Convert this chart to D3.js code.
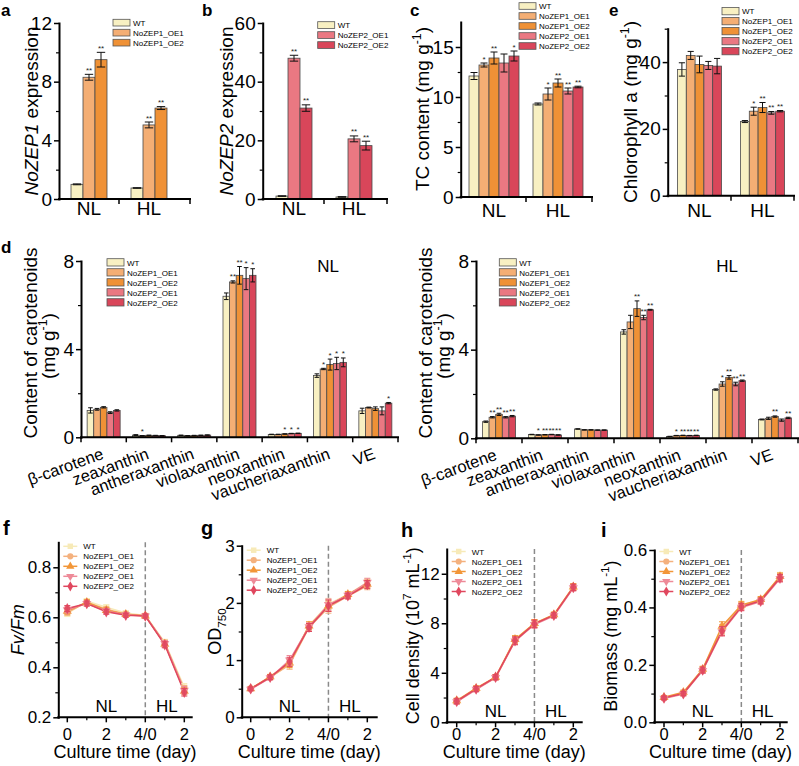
<!DOCTYPE html>
<html><head><meta charset="utf-8">
<script src="https://cdn.jsdelivr.net/npm/d3@7"></script>
<style>body{margin:0;background:#fff}svg{display:block}text{font-family:"Liberation Sans",Arial,Helvetica,sans-serif}</style>
</head><body><svg id="c" width="799" height="766"></svg>
<script>
// ---------------- DATA ----------------
const groups = ["NL", "HL"];
const seriesZEP1 = ["WT", "NoZEP1_OE1", "NoZEP1_OE2"];
const seriesZEP2 = ["WT", "NoZEP2_OE1", "NoZEP2_OE2"];
const seriesAll = ["WT", "NoZEP1_OE1", "NoZEP1_OE2", "NoZEP2_OE1", "NoZEP2_OE2"];

const zep1Mean = [[1.0, 8.3, 9.5], [0.75, 5.05, 6.2]];
const zep1Err  = [[0.03, 0.2, 0.5], [0.02, 0.2, 0.1]];
const zep1Sig  = [["", "**", "**"], ["", "**", "**"]];

const zep2Mean = [[1.0, 48, 31], [0.7, 20.5, 18.2]];
const zep2Err  = [[0.1, 1.0, 1.1], [0.1, 1.0, 1.5]];
const zep2Sig  = [["", "**", "**"], ["", "**", "**"]];

const tcMean = [[12.1, 13.2, 13.9, 13.4, 14.1], [9.3, 10.3, 11.4, 10.6, 11.0]];
const tcErr  = [[0.35, 0.2, 0.6, 0.9, 0.5], [0.1, 0.6, 0.4, 0.3, 0.08]];
const tcSig  = [["", "*", "**", "", "*"], ["", "*", "**", "**", "**"]];

const chlMean = [[37.8, 42.0, 39.3, 39.0, 38.8], [22.2, 25.3, 26.4, 24.8, 25.3]];
const chlErr  = [[2.0, 1.2, 2.5, 1.2, 2.3], [0.3, 1.2, 1.5, 0.4, 0.2]];
const chlSig  = [["", "", "", "", ""], ["", "*", "**", "**", "**"]];

const pigments = ["β-carotene", "zeaxanthin", "antheraxanthin", "violaxanthin", "neoxanthin", "vaucheriaxanthin", "VE"];
const carNLMean = [
  [1.22, 1.27, 1.36, 1.12, 1.22],
  [0.10, 0.07, 0.09, 0.08, 0.07],
  [0.09, 0.07, 0.08, 0.09, 0.10],
  [6.40, 7.05, 7.35, 7.20, 7.35],
  [0.13, 0.13, 0.15, 0.17, 0.18],
  [2.80, 3.10, 3.30, 3.35, 3.40],
  [1.20, 1.35, 1.30, 1.20, 1.55]];
const carNLErr = [
  [0.12, 0.04, 0.03, 0.04, 0.03],
  [0.02, 0.01, 0.01, 0.01, 0.01],
  [0.01, 0.01, 0.01, 0.01, 0.01],
  [0.15, 0.05, 0.40, 0.50, 0.30],
  [0.01, 0.01, 0.01, 0.01, 0.01],
  [0.08, 0.03, 0.25, 0.28, 0.20],
  [0.12, 0.02, 0.08, 0.18, 0.03]];
const carNLSig = [
  ["", "", "", "", ""],
  ["", "*", "", "", ""],
  ["", "", "", "", ""],
  ["", "**", "**", "*", "*"],
  ["", "", "*", "*", "*"],
  ["", "*", "*", "*", "*"],
  ["", "", "", "", "*"]];
const carHLMean = [
  [0.75, 0.95, 1.08, 0.95, 1.00],
  [0.17, 0.15, 0.16, 0.17, 0.15],
  [0.42, 0.38, 0.38, 0.37, 0.37],
  [4.80, 5.25, 5.85, 5.45, 5.80],
  [0.08, 0.12, 0.13, 0.12, 0.13],
  [2.20, 2.45, 2.75, 2.45, 2.60],
  [0.85, 0.90, 0.98, 0.82, 0.92]];
const carHLErr = [
  [0.03, 0.03, 0.05, 0.03, 0.03],
  [0.01, 0.01, 0.01, 0.01, 0.01],
  [0.01, 0.01, 0.01, 0.01, 0.01],
  [0.10, 0.30, 0.35, 0.10, 0.02],
  [0.01, 0.01, 0.01, 0.01, 0.01],
  [0.03, 0.10, 0.08, 0.08, 0.03],
  [0.02, 0.05, 0.03, 0.05, 0.03]];
const carHLSig = [
  ["", "**", "**", "**", "**"],
  ["", "*", "**", "**", "**"],
  ["", "", "", "", ""],
  ["", "", "**", "**", "**"],
  ["", "*", "**", "**", "**"],
  ["", "*", "**", "**", "**"],
  ["", "", "**", "", "**"]];

const days = [0, 1, 2, 3, 4, 5, 6];
const dayTickValues = [0, 2, 4, 6];
const dayTickLabels = ["0", "2", "4/0", "2"];

const fvfmValues = [
  [0.615, 0.665, 0.640, 0.617, 0.607, 0.500, 0.320],
  [0.620, 0.660, 0.632, 0.612, 0.605, 0.497, 0.312],
  [0.625, 0.660, 0.628, 0.612, 0.606, 0.493, 0.305],
  [0.630, 0.655, 0.625, 0.610, 0.605, 0.495, 0.308],
  [0.635, 0.655, 0.622, 0.608, 0.605, 0.490, 0.300]];
const fvfmErr = [0.012, 0.010, 0.010, 0.008, 0.008, 0.012, 0.015];

const odValues = [
  [0.50, 0.70, 0.93, 1.60, 1.98, 2.15, 2.36],
  [0.50, 0.70, 0.92, 1.57, 1.92, 2.12, 2.30],
  [0.50, 0.71, 0.95, 1.60, 1.95, 2.15, 2.33],
  [0.49, 0.69, 1.00, 1.58, 1.97, 2.13, 2.36],
  [0.50, 0.70, 0.97, 1.57, 1.95, 2.12, 2.32]];
const odErr = [0.03, 0.04, 0.08, 0.07, 0.10, 0.05, 0.07];

const cellValues = [
  [1.70, 2.70, 3.65, 6.70, 8.00, 8.70, 10.95],
  [1.70, 2.70, 3.60, 6.60, 7.95, 8.65, 10.90],
  [1.75, 2.75, 3.65, 6.70, 8.00, 8.70, 10.95],
  [1.65, 2.65, 3.60, 6.55, 7.90, 8.60, 10.85],
  [1.70, 2.70, 3.65, 6.60, 7.95, 8.65, 10.90]];
const cellErr = [0.2, 0.2, 0.2, 0.3, 0.3, 0.2, 0.25];

const biomassValues = [
  [0.085, 0.100, 0.185, 0.320, 0.410, 0.425, 0.510],
  [0.085, 0.102, 0.183, 0.325, 0.405, 0.425, 0.505],
  [0.087, 0.105, 0.185, 0.335, 0.408, 0.428, 0.508],
  [0.083, 0.098, 0.180, 0.315, 0.400, 0.420, 0.500],
  [0.085, 0.100, 0.182, 0.318, 0.402, 0.423, 0.503]];
const biomassErr = [0.006, 0.007, 0.010, 0.015, 0.012, 0.010, 0.012];

// ---------------- STYLE ----------------
const colorOf = {"WT": "#F8F0C2", "NoZEP1_OE1": "#F4AE74", "NoZEP1_OE2": "#EF9136", "NoZEP2_OE1": "#EA7882", "NoZEP2_OE2": "#D9465A"};
const lineColorOf = {"WT": "#F7EAB8", "NoZEP1_OE1": "#F4B17E", "NoZEP1_OE2": "#F29638", "NoZEP2_OE1": "#EE8A98", "NoZEP2_OE2": "#E0475E"};
const symOf = {"WT": [d3.symbolSquare, 0], "NoZEP1_OE1": [d3.symbolCircle, 0], "NoZEP1_OE2": [d3.symbolTriangle, 0], "NoZEP2_OE1": [d3.symbolTriangle, 180], "NoZEP2_OE2": [d3.symbolDiamond, 0]};

const svg = d3.select("#c");

function rich(sel, parts, base) {
  let shift = 0;
  parts.forEach(p => {
    const ts = sel.append("tspan").text(p.t);
    let target = 0, fs = null;
    if (p.sup) { target = -0.42 * base; fs = 0.65 * base; }
    if (p.sub) { target = 0.3 * base; fs = 0.65 * base; }
    if (target !== shift) ts.attr("dy", target - shift);
    shift = target;
    if (fs) ts.attr("font-size", fs);
    if (p.i) ts.attr("font-style", "italic");
  });
}
function vLabel(x, y, parts, fs) {
  const t = svg.append("text").attr("transform", `translate(${x},${y}) rotate(-90)`)
    .attr("text-anchor", "middle").attr("font-size", fs).attr("fill", "#000");
  rich(t, parts, fs);
}
function letter(x, y, s, fs) {
  svg.append("text").attr("x", x).attr("y", y).attr("font-size", fs).attr("font-weight", "bold").text(s);
}
function yAxis(x0, y, ticks, minor, fmt, fs) {
  const g = svg.append("g").attr("transform", `translate(${x0},0)`)
    .call(d3.axisLeft(y).tickValues(ticks).tickSize(5).tickSizeOuter(0).tickPadding(2).tickFormat(fmt));
  g.select(".domain").attr("stroke", "#000").attr("stroke-width", 2).attr("stroke-linecap", "square");
  g.selectAll(".tick line").attr("stroke", "#000").attr("stroke-width", 1.5);
  g.selectAll(".tick text").attr("font-size", fs).attr("fill", "#000").attr("font-family", '"Liberation Sans",Arial,sans-serif');
  if (minor && minor.length) {
    const m = svg.append("g").attr("transform", `translate(${x0},0)`)
      .call(d3.axisLeft(y).tickValues(minor).tickSize(3).tickFormat(""));
    m.select(".domain").remove();
    m.selectAll(".tick line").attr("stroke", "#000").attr("stroke-width", 1.2);
  }
}
function hLine(x1, x2, y) {
  svg.append("line").attr("x1", x1).attr("x2", x2).attr("y1", y).attr("y2", y)
    .attr("stroke", "#000").attr("stroke-width", 2).attr("stroke-linecap", "square");
}
function vTick(x, y, len, w) {
  svg.append("line").attr("x1", x).attr("x2", x).attr("y1", y).attr("y2", y + len)
    .attr("stroke", "#000").attr("stroke-width", w || 1.5);
}
function barLegend(lx, ly, series, boxH) {
  series.forEach((s, i) => {
    svg.append("rect").attr("x", lx).attr("y", ly + i * 10).attr("width", 17).attr("height", boxH)
      .attr("fill", colorOf[s]).attr("stroke", "#555").attr("stroke-width", 0.8);
    svg.append("text").attr("x", lx + 20).attr("y", ly + i * 10 + boxH - 0.5).attr("font-size", 8).text(s);
  });
}

function barPanel(p) {
  const y = d3.scaleLinear().domain(p.yDomain).range(p.yRange);
  const xg = d3.scaleBand().domain(p.groups).range(p.bandRange);
  const xs = d3.scaleBand().domain(p.series).range([0, xg.bandwidth()]).paddingOuter(p.innerPad);
  const bw = xs.bandwidth();
  p.groups.forEach((grp, gi) => {
    p.series.forEach((s, si) => {
      const m = p.mean[gi][si], e = p.err[gi][si];
      const bx = xg(grp) + xs(s);
      svg.append("rect").attr("x", bx).attr("y", y(m)).attr("width", bw).attr("height", y(0) - y(m))
        .attr("fill", colorOf[s]).attr("stroke", "#4a4a4a").attr("stroke-width", 0.8);
      const cx = bx + bw / 2, cw = bw * 0.35;
      const eb = svg.append("g").attr("stroke", "#111").attr("stroke-width", 1);
      eb.append("line").attr("x1", cx).attr("x2", cx).attr("y1", y(m - e)).attr("y2", y(m + e));
      eb.append("line").attr("x1", cx - cw).attr("x2", cx + cw).attr("y1", y(m + e)).attr("y2", y(m + e));
      eb.append("line").attr("x1", cx - cw).attr("x2", cx + cw).attr("y1", y(m - e)).attr("y2", y(m - e));
      const sig = p.sig[gi][si];
      if (sig) svg.append("text").attr("x", cx).attr("y", y(m + e) - 1.5).attr("text-anchor", "middle")
        .attr("font-size", 8).attr("fill", "#222").text(sig);
    });
  });
  yAxis(p.axisX, y, p.yTicks, p.yMinor, p.fmt || d3.format("d"), p.tickFs);
  hLine(p.axisX, p.axisEnd, y(0));
  const bounds = p.allTicks ? p.groups.map(g => xg(g)).concat([p.axisEnd]) : p.groups.slice(1).map(g => xg(g)).concat([p.axisEnd]);
  bounds.forEach(bx => vTick(bx, y(0), 5));
  if (p.rotLabels) {
    p.groups.forEach(g => {
      svg.append("text").attr("transform", `translate(${xg(g) + xg.bandwidth() / 2 + p.rotDx},${y(0) + 21}) rotate(-20)`)
        .attr("text-anchor", "end").attr("font-size", 16.5).text(g);
    });
  } else {
    p.groups.forEach(g => {
      svg.append("text").attr("x", xg(g) + xg.bandwidth() / 2).attr("y", p.catY).attr("text-anchor", "middle")
        .attr("font-size", 19).text(g);
    });
  }
}

function linePanel(p) {
  const x = d3.scaleLinear().domain([0, 6]).range(p.xRange);
  const y = d3.scaleLinear().domain(p.yDomain).range(p.yRange);
  svg.append("line").attr("x1", x(4)).attr("x2", x(4)).attr("y1", p.yRange[1]).attr("y2", p.yRange[0])
    .attr("stroke", "#8a8a8a").attr("stroke-width", 1.5).attr("stroke-dasharray", "5,3");
  const line = d3.line().x((d, i) => x(days[i])).y(d => y(d));
  seriesAll.forEach((s, si) => {
    svg.append("path").datum(p.values[si]).attr("d", line).attr("fill", "none")
      .attr("stroke", lineColorOf[s]).attr("stroke-width", 1.5);
  });
  seriesAll.forEach((s, si) => {
    p.values[si].forEach((v, i) => {
      const cx = x(days[i]), e = p.err[i];
      const eb = svg.append("g").attr("stroke", lineColorOf[s]).attr("stroke-width", 1);
      eb.append("line").attr("x1", cx).attr("x2", cx).attr("y1", y(v - e)).attr("y2", y(v + e));
      eb.append("line").attr("x1", cx - 3).attr("x2", cx + 3).attr("y1", y(v + e)).attr("y2", y(v + e));
      eb.append("line").attr("x1", cx - 3).attr("x2", cx + 3).attr("y1", y(v - e)).attr("y2", y(v - e));
      const [sym, rot] = symOf[s];
      svg.append("path").attr("d", d3.symbol().type(sym).size(36)())
        .attr("transform", `translate(${cx},${y(v)}) rotate(${rot})`)
        .attr("fill", lineColorOf[s]).attr("fill-opacity", 0.9);
    });
  });
  yAxis(p.axisX, y, p.yTicks, p.yMinor, p.fmt, 17);
  hLine(p.axisX, p.axisEnd, p.yRange[0]);
  dayTickValues.forEach((v, i) => {
    vTick(x(v), p.yRange[0], 5);
    svg.append("text").attr("x", x(v)).attr("y", 740).attr("text-anchor", "middle")
      .attr("font-size", 16.5).text(dayTickLabels[i]);
  });
  [1, 3, 5].forEach(v => vTick(x(v), p.yRange[0], 3, 1.2));
  svg.append("text").attr("x", (p.axisX + p.axisEnd) / 2).attr("y", 758).attr("text-anchor", "middle")
    .attr("font-size", 18).text("Culture time (day)");
  svg.append("text").attr("x", x(2)).attr("y", p.yRange[0] - 5).attr("text-anchor", "middle").attr("font-size", 17).text("NL");
  svg.append("text").attr("x", x(5.1)).attr("y", p.yRange[0] - 5).attr("text-anchor", "middle").attr("font-size", 17).text("HL");
  // legend
  seriesAll.forEach((s, i) => {
    const ly = p.yRange[1] + p.legDy + i * 10, lx = p.axisX + 12;
    svg.append("line").attr("x1", lx - 7).attr("x2", lx + 7).attr("y1", ly).attr("y2", ly)
      .attr("stroke", lineColorOf[s]).attr("stroke-width", 1.5);
    const [sym, rot] = symOf[s];
    svg.append("path").attr("d", d3.symbol().type(sym).size(30)())
      .attr("transform", `translate(${lx},${ly}) rotate(${rot})`).attr("fill", lineColorOf[s]);
    svg.append("text").attr("x", lx + 13).attr("y", ly + 3).attr("font-size", 8).text(s);
  });
  vLabel(p.labelX, (p.yRange[0] + p.yRange[1]) / 2, p.label, 18);
}

// ---------------- PANELS ----------------
// a
barPanel({groups, series: seriesZEP1, mean: zep1Mean, err: zep1Err, sig: zep1Sig,
  yDomain: [0, 12], yRange: [199, 23], yTicks: [0, 4, 8, 12], yMinor: [2, 6, 10],
  axisX: 59, axisEnd: 190, bandRange: [59, 179], innerPad: 1, catY: 215, tickFs: 19});
barLegend(113, 19.3, seriesZEP1, 6.7);
vLabel(38, 111, [{t: "NoZEP1", i: true}, {t: " expression"}], 19);
letter(1, 16, "a", 17);

// b
barPanel({groups, series: seriesZEP2, mean: zep2Mean, err: zep2Err, sig: zep2Sig,
  yDomain: [0, 60], yRange: [199, 23], yTicks: [0, 20, 40, 60], yMinor: [10, 30, 50],
  axisX: 262.7, axisEnd: 387, bandRange: [264, 384], innerPad: 1, catY: 215, tickFs: 19});
barLegend(317.7, 21.7, seriesZEP2, 6.7);
vLabel(233, 111, [{t: "NoZEP2", i: true}, {t: " expression"}], 19);
letter(202, 16, "b", 17);

// c
barPanel({groups, series: seriesAll, mean: tcMean, err: tcErr, sig: tcSig,
  yDomain: [0, 17.5], yRange: [197, 22], yTicks: [0, 5, 10, 15], yMinor: [2.5, 7.5, 12.5],
  axisX: 460.7, axisEnd: 592, bandRange: [462, 590], innerPad: 0.7, catY: 217, tickFs: 19});
barLegend(519, 2.7, seriesAll, 6.6);
vLabel(429, 109, [{t: "TC content (mg g"}, {t: "-1", sup: true}, {t: ")"}], 19);
letter(410, 16, "c", 17);

// e
barPanel({groups, series: seriesAll, mean: chlMean, err: chlErr, sig: chlSig,
  yDomain: [0, 50], yRange: [195.7, 28.7], yTicks: [0, 20, 40], yMinor: [10, 30, 50],
  axisX: 667.7, axisEnd: 794, bandRange: [668, 794], innerPad: 1.08, catY: 216.5, tickFs: 19});
barLegend(722, 7.5, seriesAll, 7.3);
vLabel(637, 112, [{t: "Chlorophyll a (mg g"}, {t: "-1", sup: true}, {t: ")"}], 19);
letter(609, 16, "e", 17);

// d (NL)
barPanel({groups: pigments, series: seriesAll, mean: carNLMean, err: carNLErr, sig: carNLSig,
  yDomain: [0, 8], yRange: [437.3, 261], yTicks: [0, 4, 8], yMinor: [2, 6],
  axisX: 81, axisEnd: 398, bandRange: [81, 398], innerPad: 0.93, allTicks: true, rotLabels: true, rotDx: 1, tickFs: 19});
barLegend(107, 258.7, seriesAll, 7.3);
vLabel(37, 343, [{t: "Content of carotenoids"}], 19);
vLabel(55, 346, [{t: "(mg g"}, {t: "-1", sup: true}, {t: ")"}], 19);
svg.append("text").attr("x", 328).attr("y", 272).attr("text-anchor", "middle").attr("font-size", 17).text("NL");
letter(1, 253, "d", 17);

// d (HL)
barPanel({groups: pigments, series: seriesAll, mean: carHLMean, err: carHLErr, sig: carHLSig,
  yDomain: [0, 8], yRange: [438.3, 261], yTicks: [0, 4, 8], yMinor: [2, 6],
  axisX: 476, axisEnd: 798, bandRange: [476, 798], innerPad: 0.98, allTicks: true, rotLabels: true, rotDx: -1, tickFs: 19});
barLegend(499.3, 258.7, seriesAll, 7.3);
vLabel(432, 343, [{t: "Content of carotenoids"}], 19);
vLabel(450, 346, [{t: "(mg g"}, {t: "-1", sup: true}, {t: ")"}], 19);
svg.append("text").attr("x", 727).attr("y", 272).attr("text-anchor", "middle").attr("font-size", 17).text("HL");

// f
linePanel({values: fvfmValues, err: fvfmErr, xRange: [67.3, 184.3], yDomain: [0.2, 0.9], yRange: [717.3, 542.3],
  yTicks: [0.2, 0.4, 0.6, 0.8], yMinor: [0.3, 0.5, 0.7], fmt: d3.format(".1f"),
  axisX: 58.3, axisEnd: 191.7, legDy: 4, labelX: 24, label: [{t: "Fv/Fm", i: true}]});
letter(3, 535, "f", 20);

// g
linePanel({values: odValues, err: odErr, xRange: [250.7, 367.3], yDomain: [0, 3], yRange: [717.3, 545.7],
  yTicks: [0, 1, 2, 3], yMinor: [0.5, 1.5, 2.5], fmt: d3.format("d"),
  axisX: 241.7, axisEnd: 376.7, legDy: 4.5, labelX: 221, label: [{t: "OD"}, {t: "750", sub: true}]});
letter(201, 535, "g", 20);

// h
linePanel({values: cellValues, err: cellErr, xRange: [456.7, 573.3], yDomain: [0, 14], yRange: [722.3, 549],
  yTicks: [0, 4, 8, 12], yMinor: [2, 6, 10], fmt: d3.format("d"),
  axisX: 446.7, axisEnd: 581.7, legDy: 2.5, labelX: 419,
  label: [{t: "Cell density (10"}, {t: "7", sup: true}, {t: " mL"}, {t: "-1", sup: true}, {t: ")"}]});
letter(401, 537, "h", 20);

// i
linePanel({values: biomassValues, err: biomassErr, xRange: [664, 780], yDomain: [0, 0.6], yRange: [722.3, 550],
  yTicks: [0, 0.2, 0.4, 0.6], yMinor: [0.1, 0.3, 0.5], fmt: d3.format(".1f"),
  axisX: 654.3, axisEnd: 786.7, legDy: 1.5, labelX: 617,
  label: [{t: "Biomass (mg mL"}, {t: "-1", sup: true}, {t: ")"}]});
letter(601, 537, "i", 20);
</script></body></html>
